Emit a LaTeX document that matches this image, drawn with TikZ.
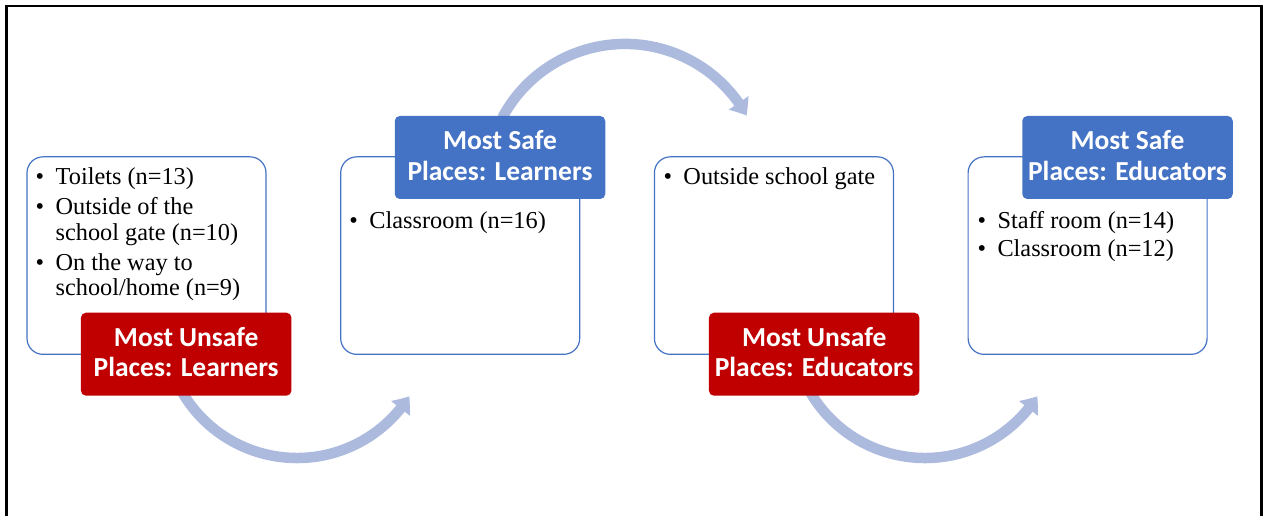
\documentclass[tikz,border=0pt]{standalone}
\usepackage{fontspec}
\setmainfont{Liberation Serif}
\newfontfamily\hdrfont{Carlito}
\usetikzlibrary{arrows.meta,bending}
\definecolor{boxblue}{HTML}{4472C4}
\definecolor{boxred}{HTML}{C00000}
\definecolor{arrowc}{RGB}{172,186,222}
\newcommand\itembullet{\llap{\textbullet\hspace{11.5pt}}}
\tikzset{
  panel/.style={draw=boxblue, line width=1.2pt, fill=white, rounded corners=16pt,
    minimum width=239pt, minimum height=197.5pt, inner sep=0pt, outer sep=0pt},
  tag/.style={rounded corners=5pt, minimum width=210.5pt, minimum height=83pt,
    inner sep=0pt, outer sep=0pt},
  safetag/.style={tag, fill=boxblue},
  unsafetag/.style={tag, fill=boxred},
  tagtext/.style={anchor=base, inner sep=0pt, text=white,
    font=\hdrfont\bfseries\fontsize{27.5}{30.5}\selectfont},
  listtext/.style={anchor=base west, inner sep=0pt,
    font=\fontsize{24.3}{25.5}\selectfont},
  flow/.style={draw=arrowc, line width=10.5pt,
    -{Triangle[width=23pt,length=15pt,bend]}},
  frame/.style={draw=black, line width=2.5pt}
}
\begin{document}
\begin{tikzpicture}[x=1pt,y=1pt]
\useasboundingbox (0,0) rectangle (1266,516);
\coordinate (fbl) at (6.7,-6);
\coordinate (ftl) at (6.7,510);
\coordinate (ftr) at (1261.5,510);
\coordinate (fbr) at (1261.5,-6);
\draw[frame] (fbl) -- (ftl) -- (ftr) -- (fbr);

% curved arrows (drawn first, they start under the tags)
\coordinate (a1s) at (181.8,124.5);
\coordinate (a2s) at (502.3,398.3);
\coordinate (a3s) at (809.8,124.5);
\draw[flow] (a1s) arc[start angle=210, end angle=327.6, radius=133];
\draw[flow] (a2s) arc[start angle=152, end angle=29, radius=139];
\draw[flow] (a3s) arc[start angle=210, end angle=327.6, radius=133];

% panels
\node[panel] (p1) at (146.5,260.4) {};
\node[panel] (p2) at (460.2,260.4) {};
\node[panel] (p3) at (773.9,260.4) {};
\node[panel] (p4) at (1087.6,260.4) {};

% tags
\node[unsafetag] (t1) at (186.2,161.8) {};
\node[safetag]   (t2) at (500,358.5) {};
\node[unsafetag] (t3) at (814.2,161.8) {};
\node[safetag]   (t4) at (1127.5,358.5) {};

\node[tagtext] (t1x) at (186.2,169.6) {\begin{tabular}[t]{@{}c@{}}Most Unsafe\\Places: Learners\end{tabular}};
\node[tagtext] (t2x) at (500,366.3) {\begin{tabular}[t]{@{}c@{}}Most Safe\\Places: Learners\end{tabular}};
\node[tagtext] (t3x) at (814.2,169.6) {\begin{tabular}[t]{@{}c@{}}Most Unsafe\\Places: Educators\end{tabular}};
\node[tagtext] (t4x) at (1127.5,366.3) {\begin{tabular}[t]{@{}c@{}}Most Safe\\Places: Educators\end{tabular}};

% lists
\node[listtext] (l1) at (55.5,331) {\begin{tabular}[t]{@{}l@{}}
  \itembullet Toilets (n=13)\\[4.5pt]
  \itembullet Outside of the\\
  school gate (n=10)\\[4.5pt]
  \itembullet On the way to\\
  school/home (n=9)\end{tabular}};
\node[listtext] (l2) at (369.3,287.7) {\begin{tabular}[t]{@{}l@{}}
  \itembullet Classroom (n=16)\end{tabular}};
\node[listtext] (l3) at (683.3,331) {\begin{tabular}[t]{@{}l@{}}
  \itembullet Outside school gate\end{tabular}};
\node[listtext] (l4) at (997.3,287.7) {\begin{tabular}[t]{@{}l@{}}
  \itembullet Staff room (n=14)\\[2.9pt]
  \itembullet Classroom (n=12)\end{tabular}};
\end{tikzpicture}
\end{document}
